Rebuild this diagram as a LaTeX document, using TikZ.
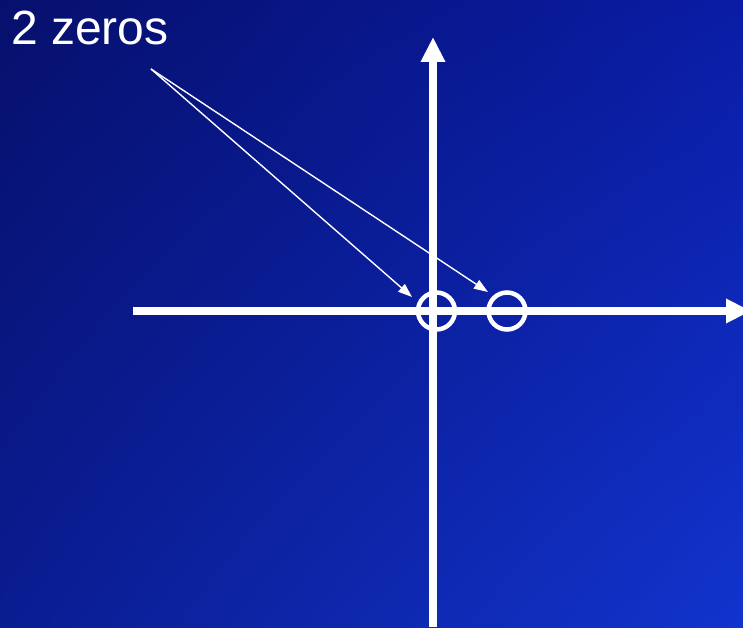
\documentclass[tikz,border=0pt]{standalone}
\usepackage{fontspec}
\setmainfont{Liberation Sans}
\usetikzlibrary{arrows.meta,shadings}
\definecolor{bgUL}{RGB}{6,16,108}
\definecolor{bgUR}{RGB}{10,28,165}
\definecolor{bgLL}{RGB}{10,28,145}
\definecolor{bgLR}{RGB}{18,52,205}
\begin{document}
\begin{tikzpicture}[x=1pt,y=1pt,
  axisline/.style={white,line width=7.5pt,-{Triangle[length=25pt,width=23pt]}},
  zeromark/.style={circle,draw=white,line width=4.5pt,minimum size=37pt,inner sep=0pt},
  pointer/.style={white,line width=1.4pt,-{Triangle[length=14pt,width=10pt]}},
  labeltext/.style={text=white,font=\fontsize{48}{52}\selectfont,inner sep=0pt,anchor=base west}]
\useasboundingbox (0,0) rectangle (743,627);
\begin{scope}
\clip (0,0) rectangle (743,627);
\shade[upper left=bgUL,upper right=bgUR,lower left=bgLL,lower right=bgLR] (0,0) rectangle (743,627);
% axes
\coordinate (vbot) at (433,0);
\coordinate (vtop) at (433,590);
\coordinate (hleft) at (133,316);
\coordinate (hright) at (751,316);
\draw[axisline] (vbot) -- (vtop);
\draw[axisline] (hleft) -- (hright);
\end{scope}
% zeros
\node[zeromark] (z1) at (436.5,316) {};
\node[zeromark] (z2) at (507,316) {};
% label
\node[labeltext] (lbl) at (11,582) {2 zeros};
\coordinate (src) at (151,558);
\coordinate (tip1) at (412,330);
\coordinate (tip2) at (488,335);
\draw[pointer] (src) -- (tip1);
\draw[pointer] (src) -- (tip2);
\end{tikzpicture}
\end{document}
